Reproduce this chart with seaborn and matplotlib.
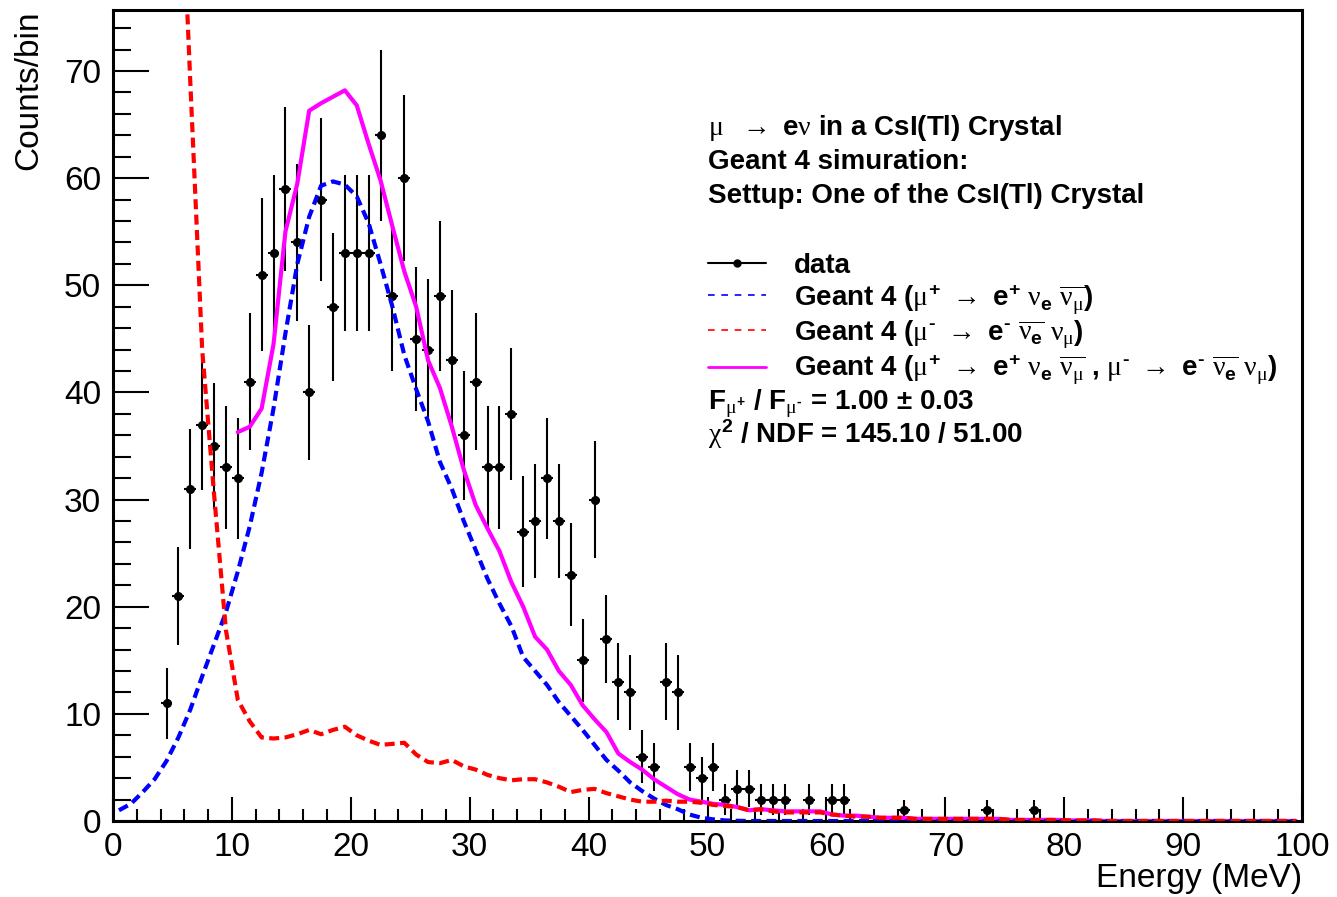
import numpy as np
import pandas as pd
import matplotlib
matplotlib.use("Agg")
import matplotlib.pyplot as plt
import seaborn as sns
from matplotlib.lines import Line2D
from matplotlib.ticker import MultipleLocator

# -----------------------------
# 1. DATA
# -----------------------------
# measured data, 1 MeV bins (bin centres)
data_energy = [4.5, 5.5, 6.5, 7.5, 8.5, 9.5, 10.5, 11.5, 12.5, 13.5,
               14.5, 15.5, 16.5, 17.5, 18.5, 19.5, 20.5, 21.5, 22.5, 23.5,
               24.5, 25.5, 26.5, 27.5, 28.5, 29.5, 30.5, 31.5, 32.5, 33.5,
               34.5, 35.5, 36.5, 37.5, 38.5, 39.5, 40.5, 41.5, 42.5, 43.5,
               44.5, 45.5, 46.5, 47.5, 48.5, 49.5, 50.5, 51.5, 52.5, 53.5,
               54.5, 55.5, 56.5, 58.5, 60.5, 61.5, 66.5, 73.5, 77.5]
data_counts = [11, 21, 31, 37, 35, 33, 32, 41, 51, 53,
               59, 54, 40, 58, 48, 53, 53, 53, 64, 49,
               60, 45, 44, 49, 43, 36, 41, 33, 33, 38,
               27, 28, 32, 28, 23, 15, 30, 17, 13, 12,
               6, 5, 13, 12, 5, 4, 5, 2, 3, 3,
               2, 2, 2, 2, 2, 2, 1, 1, 1]

# Geant 4 histograms, bin centres 0.5 ... 99.5
sim_energy = [i + 0.5 for i in range(100)]
mu_plus = [1.0, 1.6, 2.7, 3.9, 5.6, 7.8, 10.4, 13.5, 16.5, 19.5,
           23.3, 27.5, 32.5, 38.5, 45.5, 52.0, 56.4, 59.3, 59.7, 59.4,
           58.3, 55.8, 52.0, 48.0, 43.5, 40.3, 37.3, 33.5, 31.0, 28.0,
           25.3, 22.6, 20.3, 18.2, 15.3, 14.0, 12.7, 11.1, 9.8, 8.5,
           7.1, 5.7, 4.7, 3.6, 2.8, 2.1, 1.5, 1.1, 0.6, 0.3,
           0.15, 0.05, 0.02, 0, 0, 0, 0, 0, 0, 0,
           0, 0, 0, 0, 0, 0, 0, 0, 0, 0,
           0, 0, 0, 0, 0, 0, 0, 0, 0, 0,
           0, 0, 0, 0, 0, 0, 0, 0, 0, 0,
           0, 0, 0, 0, 0, 0, 0, 0, 0, 0]
mu_minus = [250, 210, 175, 145, 118, 95, 69, 44, 30.5, 17.8,
            11.3, 9.3, 7.8, 7.7, 7.8, 8.1, 8.5, 8.1, 8.5, 8.8,
            8.0, 7.5, 7.1, 7.2, 7.3, 6.2, 5.5, 5.4, 5.7, 5.1,
            4.8, 4.3, 4.0, 3.8, 3.9, 3.9, 3.6, 3.2, 2.7, 2.9,
            3.0, 2.6, 2.3, 2.0, 1.8, 1.8, 1.9, 1.8, 1.8, 1.7,
            1.5, 1.4, 1.3, 1.0, 1.1, 0.9, 0.8, 0.8, 0.8, 0.8,
            0.6, 0.5, 0.4, 0.4, 0.3, 0.3, 0.3, 0.2, 0.2, 0.2,
            0.2, 0.2, 0.2, 0.2, 0.2, 0.1, 0.1, 0.1, 0.1, 0.1,
            0.05, 0.05, 0.05, 0, 0, 0, 0, 0, 0, 0,
            0, 0, 0, 0, 0, 0, 0, 0, 0, 0]
# combined fit, drawn from 10.5 MeV
sum_energy = [i + 0.5 for i in range(10, 100)]
mu_sum = [36.3, 36.8, 38.5, 44.5, 55.0, 59.5, 66.3, 67.0, 67.6, 68.2,
          66.8, 63.2, 59.8, 55.5, 51.3, 48.0, 43.0, 40.4, 36.8, 32.8,
          29.5, 27.3, 25.2, 22.3, 20.0, 17.2, 16.0, 14.0, 12.7, 10.8,
          9.5, 8.3, 6.3, 5.5, 4.8, 3.9, 3.2, 2.5, 2.0, 1.8,
          1.6, 1.5, 1.3, 1.0, 1.1, 1.0, 0.9, 0.9, 0.9, 0.9,
          0.6, 0.5, 0.5, 0.4, 0.3, 0.3, 0.3, 0.2, 0.2, 0.2,
          0.2, 0.2, 0.2, 0.2, 0.2, 0.1, 0.1, 0.1, 0.1, 0.1,
          0.05, 0.05, 0.05, 0, 0, 0, 0, 0, 0, 0,
          0, 0, 0, 0, 0, 0, 0, 0, 0, 0]

df_data = pd.DataFrame({"energy": data_energy, "counts": data_counts})
df_data["err"] = np.sqrt(df_data["counts"])
df_sim = pd.DataFrame({"energy": sim_energy, "plus": mu_plus, "minus": mu_minus})
df_sum = pd.DataFrame({"energy": sum_energy, "both": mu_sum})

# -----------------------------
# 2. STYLE
# -----------------------------
sns.set_theme(style="white")
plt.rcParams["font.family"] = ["Liberation Sans", "DejaVu Sans"]
plt.rcParams["text.color"] = "black"
plt.rcParams["axes.labelcolor"] = "black"
plt.rcParams["mathtext.fontset"] = "custom"
plt.rcParams["mathtext.rm"] = "Liberation Sans:bold"
plt.rcParams["mathtext.bf"] = "Liberation Sans:bold"
plt.rcParams["mathtext.it"] = "Liberation Serif"
plt.rcParams["mathtext.default"] = "rm"

fig = plt.figure(figsize=(13.37, 8.97), dpi=100)
ax = fig.add_axes([113 / 1337, 1 - 821 / 897, 1189 / 1337, 811 / 897])

# -----------------------------
# 3. PLOT
# -----------------------------
ax.errorbar(df_data["energy"], df_data["counts"], yerr=df_data["err"], xerr=0.5,
            fmt="o", color="black", ms=5.5, elinewidth=1.5, capsize=0, zorder=2)

dash = (0, (2.4, 1.3))
sns.lineplot(data=df_sum, x="energy", y="both", ax=ax, color="#ff00ff", lw=3,
             zorder=2.5)
sns.lineplot(data=df_sim, x="energy", y="plus", ax=ax, color="#0000ff", lw=3,
             linestyle=dash, zorder=3)
sns.lineplot(data=df_sim, x="energy", y="minus", ax=ax, color="#ff0000", lw=3,
             linestyle=dash, zorder=3)

ax.set_xlim(0, 100)
ax.set_ylim(0, 75.7)

# ROOT-like axes
for s in ax.spines.values():
    s.set_linewidth(2.2)
    s.set_color("black")
ax.xaxis.set_major_locator(MultipleLocator(10))
ax.xaxis.set_minor_locator(MultipleLocator(2))
ax.yaxis.set_major_locator(MultipleLocator(10))
ax.yaxis.set_minor_locator(MultipleLocator(2))
ax.tick_params(which="both", direction="in", bottom=True, left=True,
               top=False, right=False, width=1.5, color="black",
               labelcolor="black", labelsize=24)
ax.tick_params(axis="x", which="major", length=17, pad=8)
ax.tick_params(axis="x", which="minor", length=8.6)
ax.tick_params(axis="y", which="major", length=26, pad=8.5)
ax.tick_params(axis="y", which="minor", length=13)

ax.set_xlabel("Energy (MeV)", fontsize=24, loc="right", color="black")
ax.set_ylabel("Counts/bin", fontsize=24, loc="top", color="black")
ax.xaxis.set_label_coords(1.0, -0.052)
ax.yaxis.set_label_coords(-0.058, 1.0)

# -----------------------------
# 4. TEXT + LEGEND
# -----------------------------
tx = (708 - 113) / 1189
def ay(py):
    return (821 - py) / 811

mu = r"$\mathit{\mu}$"
nu = r"$\mathit{\nu}$"
arrow = r"$\rightarrow$"

ax.text(tx, ay(128), mu + "  " + arrow + " e" + nu + " in a CsI(Tl) Crystal",
        transform=ax.transAxes, fontsize=20, fontweight="bold", va="center")
ax.text(tx, ay(162), "Geant 4 simuration:", transform=ax.transAxes,
        fontsize=20, fontweight="bold", va="center")
ax.text(tx, ay(196), "Settup: One of the CsI(Tl) Crystal", transform=ax.transAxes,
        fontsize=20, fontweight="bold", va="center")
ax.text(tx, ay(404), r"F$_{\mathit{\mu}^{+}}$ / F$_{\mathit{\mu}^{\text{-}}}$ = 1.00 $\pm$ 0.03",
        transform=ax.transAxes, fontsize=20, fontweight="bold", va="center")
ax.text(tx, ay(434), r"$\mathit{\chi}^{2}$ / NDF = 145.10 / 51.00",
        transform=ax.transAxes, fontsize=20, fontweight="bold", va="center")

handles = [
    Line2D([], [], color="black", lw=1.5, marker="o", ms=5),
    Line2D([], [], color="#0000ff", lw=1.2, linestyle=(0, (4, 4))),
    Line2D([], [], color="#ff0000", lw=1.2, linestyle=(0, (4, 4))),
    Line2D([], [], color="#ff00ff", lw=2),
]
labels = [
    "data",
    r"Geant 4 ($\mathit{\mu}^{+}$ $\rightarrow$ e$^{+}$ $\mathit{\nu}_{e}$ $\overline{\mathit{\nu}_{\mathit{\mu}}}$)",
    r"Geant 4 ($\mathit{\mu}^{\text{-}}$ $\rightarrow$ e$^{\text{-}}$ $\overline{\mathit{\nu}_{e}}$ $\mathit{\nu}_{\mathit{\mu}}$)",
    r"Geant 4 ($\mathit{\mu}^{+}$ $\rightarrow$ e$^{+}$ $\mathit{\nu}_{e}$ $\overline{\mathit{\nu}_{\mathit{\mu}}}$ , "
    r"$\mathit{\mu}^{\text{-}}$ $\rightarrow$ e$^{\text{-}}$ $\overline{\mathit{\nu}_{e}}$ $\mathit{\nu}_{\mathit{\mu}}$)",
]
leg = ax.legend(handles, labels, loc="upper left", bbox_to_anchor=(tx, ay(253)),
                frameon=False, prop={"size": 20, "weight": "bold"},
                handlelength=2.1, handletextpad=1.0, labelspacing=0.1,
                borderaxespad=0, borderpad=0)

fig.savefig("out.png", dpi=100)
